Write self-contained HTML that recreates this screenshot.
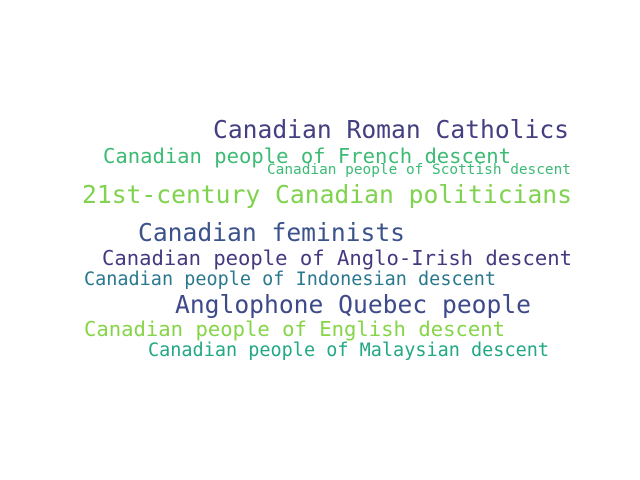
<!DOCTYPE html>
<html><head><meta charset="utf-8"><style>
html,body{margin:0;padding:0;background:#fff;}
svg{display:block;}
text{font-family:"DejaVu Sans Mono","Liberation Mono",monospace;}
</style></head><body>
<svg width="640" height="480">
<rect width="640" height="480" fill="#fff"/>
<text x="213" y="138" font-size="24.6" fill="#443f80" textLength="356" lengthAdjust="spacingAndGlyphs">Canadian Roman Catholics</text>
<text x="103" y="163" font-size="20.5" fill="#3dbb75" textLength="408" lengthAdjust="spacingAndGlyphs">Canadian people of French descent</text>
<text x="267" y="174" font-size="14.4" fill="#3cba76" textLength="304" lengthAdjust="spacingAndGlyphs">Canadian people of Scottish descent</text>
<text x="82" y="203" font-size="24.7" fill="#7fd34e" textLength="490" lengthAdjust="spacingAndGlyphs">21st-century Canadian politicians</text>
<text x="138" y="241" font-size="24.6" fill="#3b528b" textLength="267" lengthAdjust="spacingAndGlyphs">Canadian feminists</text>
<text x="102" y="265" font-size="20.5" fill="#46387f" textLength="470" lengthAdjust="spacingAndGlyphs">Canadian people of Anglo-Irish descent</text>
<text x="84" y="285" font-size="18.5" fill="#2a788e" textLength="412" lengthAdjust="spacingAndGlyphs">Canadian people of Indonesian descent</text>
<text x="175" y="313" font-size="24.6" fill="#3e4a89" textLength="356" lengthAdjust="spacingAndGlyphs">Anglophone Quebec people</text>
<text x="84" y="336" font-size="20.5" fill="#86d549" textLength="421" lengthAdjust="spacingAndGlyphs">Canadian people of English descent</text>
<text x="148" y="356" font-size="18.5" fill="#22a884" textLength="401" lengthAdjust="spacingAndGlyphs">Canadian people of Malaysian descent</text>
</svg>
</body></html>
